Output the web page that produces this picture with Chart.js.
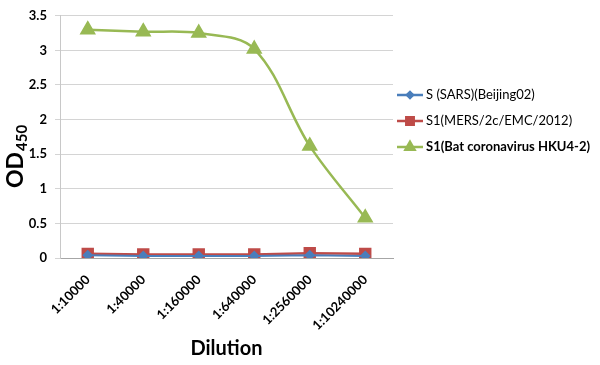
<!DOCTYPE html>
<html>
<head>
<meta charset="utf-8">
<script src="https://cdn.jsdelivr.net/npm/chart.js@4"></script>
<style>
  html, body { margin: 0; padding: 0; background: #fff; }
  #wrap { width: 600px; height: 365px; }
</style>
</head>
<body>
<div id="wrap"><canvas id="odChart" width="600" height="365"></canvas></div>
<script>
const dilutions = ['1:10000', '1:40000', '1:160000', '1:640000', '1:2560000', '1:10240000'];
const sarsValues = [0.04, 0.03, 0.03, 0.03, 0.04, 0.03];
const mersValues = [0.06, 0.05, 0.05, 0.05, 0.07, 0.06];
const hku4Values = [3.30, 3.27, 3.25, 3.02, 1.62, 0.58];
const seriesNames = ['S (SARS)(Beijing02)', 'S1(MERS/2c/EMC/2012)', 'S1(Bat coronavirus HKU4-2)'];

const FONT = 'Lato, "Open Sans", sans-serif';

// titles + legend drawn by hand, the Excel look is hard to get from the built-in ones
const extras = {
  id: 'extras',
  afterDraw(chart) {
    const ctx = chart.ctx;
    const area = chart.chartArea;
    ctx.save();
    ctx.fillStyle = '#000';

    // x title
    ctx.font = 'bold 20px ' + FONT;
    ctx.textAlign = 'center';
    ctx.textBaseline = 'middle';
    ctx.fillText('Dilution', (area.left + area.right) / 2, 349);

    // y title: OD with subscript 450
    ctx.translate(16, 150);
    ctx.rotate(-Math.PI / 2);
    ctx.textAlign = 'left';
    ctx.textBaseline = 'middle';
    ctx.font = 'bold 23px ' + FONT;
    const odW = ctx.measureText('OD').width;
    ctx.fillText('OD', -38, 0);
    ctx.font = 'bold 15px ' + FONT;
    ctx.fillText('450', -38 + odW + 1, 6);
    ctx.restore();

    // legend
    ctx.save();
    const rows = [95, 121, 147];
    chart.data.datasets.forEach((ds, i) => {
      const y = rows[i];
      ctx.strokeStyle = ds.borderColor;
      ctx.lineWidth = 2.5;
      ctx.beginPath();
      ctx.moveTo(397, y);
      ctx.lineTo(423, y);
      ctx.stroke();
      ctx.fillStyle = ds.pointBackgroundColor;
      ctx.strokeStyle = ds.pointBackgroundColor;
      Chart.helpers.drawPoint(ctx, {
        pointStyle: ds.pointStyle,
        radius: ds.pointRadius * 0.75,
        rotation: 0,
        borderWidth: 1
      }, 410, y);
      ctx.fillStyle = '#000';
      ctx.font = (i === 2 ? 'bold ' : '') + '13px ' + FONT;
      ctx.textAlign = 'left';
      ctx.textBaseline = 'middle';
      ctx.fillText(ds.label, 426, y);
    });
    ctx.restore();
  }
};

new Chart(document.getElementById('odChart'), {
  type: 'line',
  data: {
    labels: dilutions,
    datasets: [
      {
        label: seriesNames[0],
        data: sarsValues,
        borderColor: '#4a7ebb',
        backgroundColor: '#4a7ebb',
        pointBackgroundColor: '#4a7ebb',
        pointBorderColor: '#4a7ebb',
        pointStyle: 'rectRot',
        pointRadius: 4,
        borderWidth: 2,
        tension: 0
      },
      {
        label: seriesNames[1],
        data: mersValues,
        borderColor: '#be4b48',
        backgroundColor: '#be4b48',
        pointBackgroundColor: '#be4b48',
        pointBorderColor: '#be4b48',
        pointStyle: 'rect',
        pointRadius: 7,
        borderWidth: 2.5,
        tension: 0
      },
      {
        label: seriesNames[2],
        data: hku4Values,
        borderColor: '#98b954',
        backgroundColor: '#98b954',
        pointBackgroundColor: '#98b954',
        pointBorderColor: '#98b954',
        pointStyle: 'triangle',
        pointRadius: 7,
        borderWidth: 2.5,
        tension: 0.35
      }
    ]
  },
  options: {
    responsive: false,
    animation: false,
    layout: { padding: { top: 11, right: 207, left: 0, bottom: 0 } },
    plugins: {
      legend: { display: false },
      tooltip: { enabled: false }
    },
    scales: {
      x: {
        offset: true,
        grid: { display: false, drawTicks: false },
        border: { color: '#a6a6a6', width: 1 },
        ticks: {
          minRotation: 45,
          maxRotation: 45,
          padding: 14,
          color: '#000',
          font: { family: FONT, size: 13, weight: 'bold' }
        },
        afterFit(axis) { axis.height = 107; }
      },
      y: {
        min: 0,
        max: 3.5,
        grid: { color: '#d4d4d4', tickLength: 5 },
        border: { color: '#c8c8c8', width: 1 },
        ticks: {
          stepSize: 0.5,
          padding: 8,
          color: '#000',
          font: { family: FONT, size: 13, weight: 'bold' },
          callback: (v) => String(Math.round(v * 10) / 10)
        },
        afterFit(axis) { axis.width = 60; }
      }
    }
  },
  plugins: [extras]
});
</script>
</body>
</html>
